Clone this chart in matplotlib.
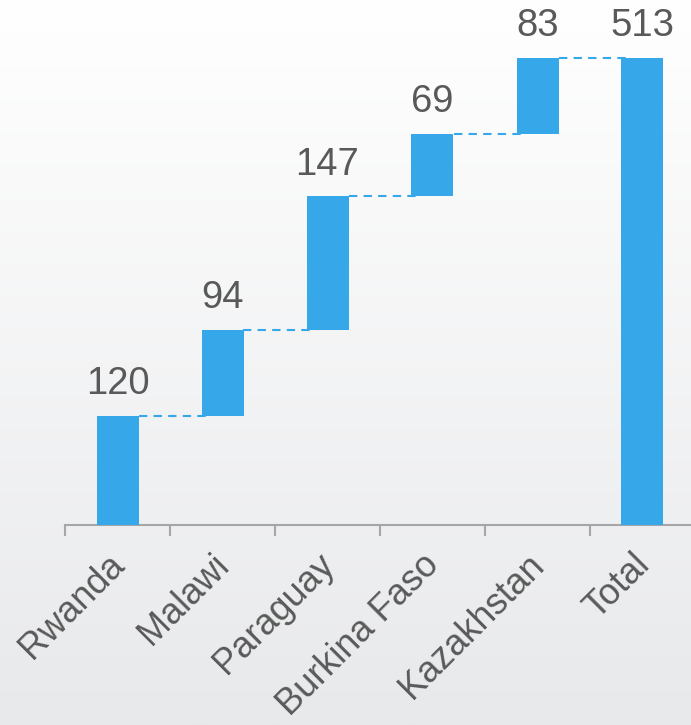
import numpy as np
import matplotlib
matplotlib.use("Agg")
import matplotlib.pyplot as plt
import matplotlib.transforms as mtransforms

# waterfall data
countries = ["Rwanda", "Malawi", "Paraguay", "Burkina Faso", "Kazakhstan"]
values = [120, 94, 147, 69, 83]
total_label = "Total"

BLUE = "#36a7e9"
TEXT = "#595959"
AXIS = "#a6a6a6"

plt.rcParams["font.family"] = ["Liberation Sans", "DejaVu Sans"]

labels = countries + [total_label]
total = sum(values)
heights = values + [total]
bottoms = list(np.cumsum([0] + values[:-1])) + [0]
tops = [b + h for b, h in zip(bottoms, heights)]
x = np.arange(len(labels))

fig = plt.figure(figsize=(6.91, 7.25), dpi=100)

# gradient background over whole figure
bg = fig.add_axes([0, 0, 1, 1], zorder=-1)
grad = np.linspace(1.0, 0.0, 256).reshape(-1, 1)
top_c = np.array([1.0, 1.0, 1.0])
bot_c = np.array([232, 233, 235]) / 255
img = grad[..., None] * top_c + (1 - grad[..., None]) * bot_c
bg.imshow(img, aspect="auto", extent=[0, 1, 0, 1])
bg.axis("off")

ax = fig.add_axes([65 / 691, 200 / 725, 1 - 65 / 691, 525 / 725])
ax.patch.set_alpha(0)

width = 0.4
ax.bar(x, heights, bottom=bottoms, width=width, color=BLUE, zorder=3)

# connector lines
for i in range(len(labels) - 1):
    ax.plot([x[i] + width / 2, x[i + 1] - width / 2 + 0.05], [tops[i], tops[i]],
            color=BLUE, lw=1.5, dashes=(4, 3), zorder=2)

# value labels
for xi, t, h in zip(x, tops, heights):
    ax.annotate(str(h), (xi, t), xytext=(0, 10), textcoords="offset points",
                ha="center", va="bottom", fontsize=27.5, color=TEXT)

ax.set_xlim(-0.5, 5.5 - 4 / 105)
ax.set_ylim(0, 525 / 0.91)

for s in ["top", "right", "left"]:
    ax.spines[s].set_visible(False)
ax.spines["bottom"].set_color(AXIS)
ax.spines["bottom"].set_linewidth(1.5)
ax.set_yticks([])

ax.set_xticks(x - 0.5, minor=False)
ax.tick_params(axis="x", which="major", length=8, width=1.5, color=AXIS, labelbottom=False)
ax.set_xticks(x, minor=True)
ax.set_xticklabels(labels, minor=True, rotation=45, ha="right", fontsize=26, color=TEXT)
ax.tick_params(axis="x", which="minor", length=0, pad=16)
offset = mtransforms.ScaledTranslation(14 / 100, 0, fig.dpi_scale_trans)
for lab in ax.get_xticklabels(minor=True):
    lab.set_transform(lab.get_transform() + offset)

fig.savefig("out.png", dpi=100)
